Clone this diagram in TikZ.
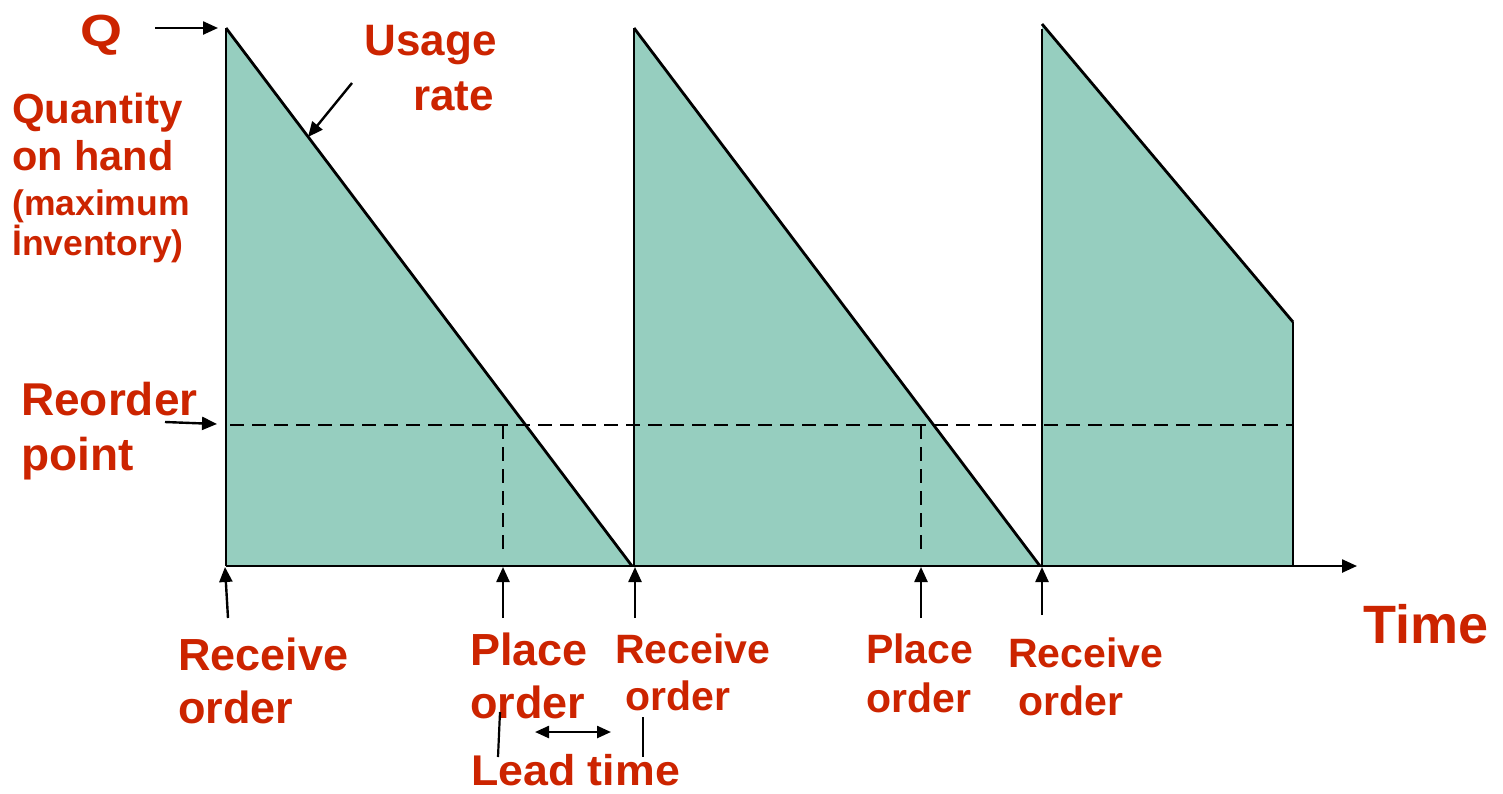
\documentclass[tikz,border=0pt]{standalone}
\usepackage{graphicx}
\usepackage{fontspec}
\setmainfont{Liberation Sans}
\usetikzlibrary{arrows.meta}
\definecolor{labelred}{RGB}{204,36,0}
\definecolor{stockfill}{RGB}{150,206,191}
\begin{document}
\begin{tikzpicture}[x=1pt,y=-1pt,
  lbl/.style={text=labelred,inner sep=0pt,anchor=base west,
    font=\fontsize{#1}{#1}\selectfont\bfseries},
  lblr/.style={lbl=#1,anchor=base east},
  edge/.style={line width=2.8pt,line join=round},
  ptr/.style={line width=2.4pt,-{Triangle[length=15pt,width=13pt]}},
  tick/.style={line width=2.2pt},
  ropline/.style={line width=2.3pt,dash pattern=on 14pt off 8pt},
]
\useasboundingbox (0,0) rectangle (1503,793);

% cycle corners
\coordinate (t1) at (226,28);   \coordinate (b1) at (226,566);
\coordinate (t2) at (634,28);   \coordinate (b2) at (634,566);
\coordinate (t3) at (1042,24);  \coordinate (b3) at (1042,566);
\coordinate (e1) at (632,566);  \coordinate (e2) at (1040,566);
\coordinate (c3) at (1293,322); \coordinate (d3) at (1293,566);
\coordinate (v3) at (1042,29);
\coordinate (axend) at (1357,566);

% inventory level areas
\fill[stockfill] (t1) -- (e1) -- (b1) -- cycle;
\fill[stockfill] (t2) -- (e2) -- (b2) -- cycle;
\fill[stockfill] (t3) -- (c3) -- (d3) -- (b3) -- cycle;

% reorder level and lead-time drops
\coordinate (r0) at (230,425); \coordinate (r1) at (1293,425);
\draw[ropline] (r0) -- (r1);
\coordinate (p1top) at (503,425); \coordinate (p1bot) at (503,552);
\coordinate (p2top) at (921,425); \coordinate (p2bot) at (921,552);
\draw[ropline] (p1top) -- (p1bot);
\draw[ropline] (p2top) -- (p2bot);

% sawtooth outline and time axis
\draw[edge] (t1) -- (b1);
\draw[edge] (t1) -- (e1);
\draw[edge] (t2) -- (b2);
\draw[edge] (t2) -- (e2);
\draw[edge] (v3) -- (b3);
\draw[edge] (t3) -- (c3);
\draw[line width=2.2pt] (c3) -- (d3);
\draw[ptr] (b1) -- (axend);

% labels
\node[lbl=45] (q) at (80,46) {\scalebox{1.2}[1]{Q}};
\node[lblr=44] (usage) at (497,55) {Usage};
\node[lblr=44] (rate) at (494,110) {rate};
\node[lbl=42] (qty1) at (12,123) {Quantity};
\node[lbl=41.5] (qty2) at (12,170) {on hand};
\node[lbl=35.5] (qty3) at (12,215) {(maximum};
\node[lbl=35.5] (qty4) at (12,255) {İnventory)};
\node[lbl=46] (rop1) at (21,415) {Reorder};
\node[lbl=46] (rop2) at (21,470) {point};
\node[lbl=45] (rcv1a) at (178,670) {Receive};
\node[lbl=45] (rcv1b) at (178,723) {order};
\node[lbl=45] (plc1a) at (470,665) {Place};
\node[lbl=45] (plc1b) at (470,718) {order};
\node[lbl=41] (rcv2a) at (615,663) {Receive};
\node[lbl=41] (rcv2b) at (625,710) {order};
\node[lbl=41] (plc2a) at (866,663) {Place};
\node[lbl=41] (plc2b) at (866,712) {order};
\node[lbl=41] (rcv3a) at (1008,667) {Receive};
\node[lbl=41] (rcv3b) at (1018,715) {order};
\node[lbl=54] (time) at (1363,643) {Time};
\node[lbl=43] (lead) at (471,785) {\scalebox{1.04}[1]{Lead time}};

% pointers
\coordinate (qs) at (155,28);     \coordinate (qe) at (218,28);
\coordinate (us) at (352,83);     \coordinate (ue) at (308,137);
\coordinate (rs) at (165,422);    \coordinate (re) at (217,424);
\draw[ptr] (qs) -- (qe);
\draw[ptr] (us) -- (ue);
\draw[ptr] (rs) -- (re);

\coordinate (a1s) at (228,618);  \coordinate (a1e) at (225,567);
\coordinate (a2s) at (503,618);  \coordinate (a2e) at (503,567);
\coordinate (a3s) at (635,618);  \coordinate (a3e) at (635,567);
\coordinate (a4s) at (921,618);  \coordinate (a4e) at (921,567);
\coordinate (a5s) at (1042,615); \coordinate (a5e) at (1042,567);
\foreach \k in {1,...,5} \draw[ptr] (a\k s) -- (a\k e);

% lead time span
\coordinate (l1s) at (500,712); \coordinate (l1e) at (498,757);
\coordinate (l2s) at (643,717); \coordinate (l2e) at (643,757);
\draw[tick] (l1s) -- (l1e);
\draw[tick] (l2s) -- (l2e);
\coordinate (ls) at (535,732); \coordinate (le) at (611,732);
\draw[line width=2.4pt,{Triangle[length=14pt,width=12pt]}-{Triangle[length=14pt,width=12pt]}] (ls) -- (le);
\end{tikzpicture}
\end{document}
